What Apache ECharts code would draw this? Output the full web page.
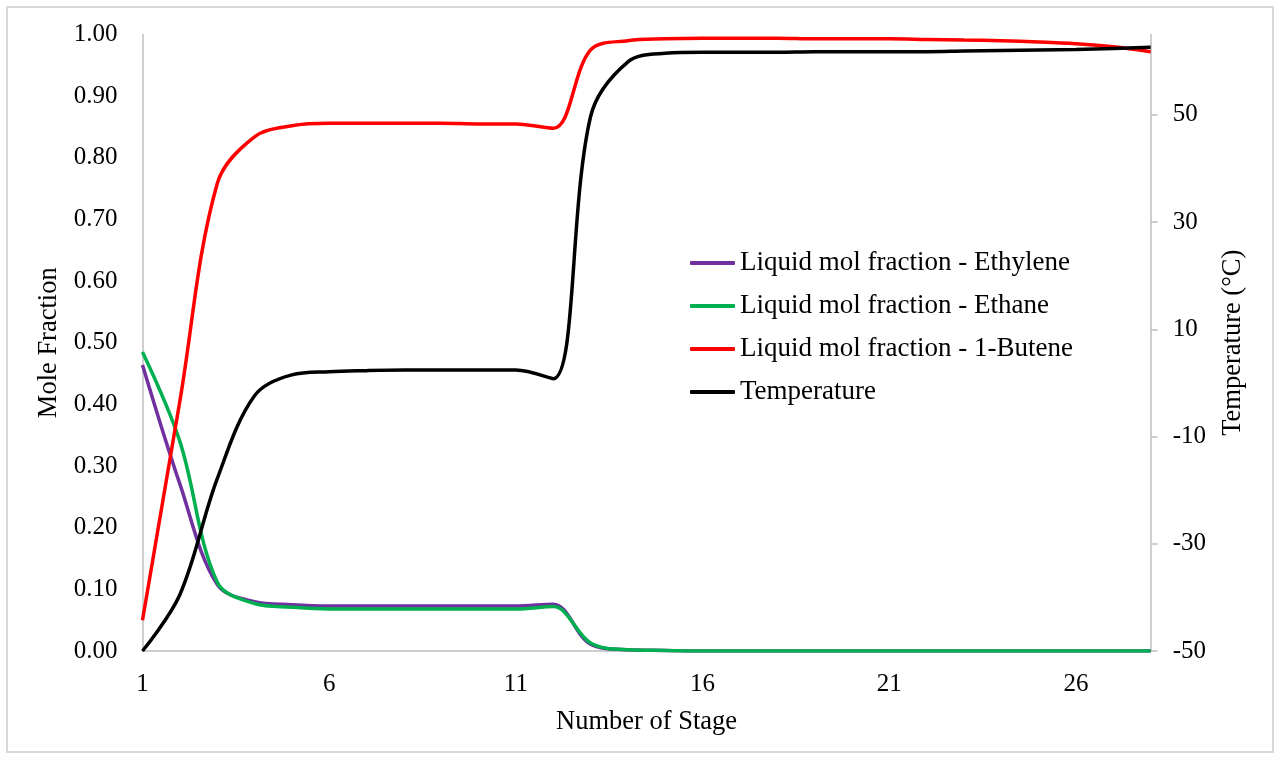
<!DOCTYPE html>
<html>
<head>
<meta charset="utf-8">
<script src="https://cdn.jsdelivr.net/npm/echarts@6/dist/echarts.min.js"></script>
<style>
html,body{margin:0;padding:0;background:#fff;}
#chart{width:1275px;height:759px;}
</style>
</head>
<body>
<div id="chart"></div>
<script>
const stages = [1,2,3,4,5,6,7,8,9,10,11,12,13,14,15,16,17,18,19,20,21,22,23,24,25,26,27,28];
const ethylene = [0.464,0.271,0.108,0.080,0.075,0.073,0.073,0.073,0.073,0.073,0.073,0.076,0.011,0.002,0.001,0,0,0,0,0,0,0,0,0,0,0,0,0];
const ethane   = [0.485,0.340,0.112,0.077,0.071,0.068,0.068,0.068,0.068,0.068,0.068,0.072,0.013,0.002,0.001,0,0,0,0,0,0,0,0,0,0,0,0,0];
const butene   = [0.050,0.405,0.758,0.834,0.852,0.856,0.856,0.856,0.856,0.855,0.855,0.848,0.975,0.990,0.993,0.994,0.994,0.994,0.993,0.993,0.993,0.992,0.991,0.990,0.988,0.985,0.980,0.972];
const temperature = [-50,-39.5,-17.9,-2.4,1.5,2.1,2.3,2.4,2.4,2.4,2.4,0.8,49.7,59.9,61.5,61.7,61.7,61.7,61.8,61.8,61.8,61.8,61.9,62.0,62.1,62.2,62.4,62.6];
const xTicks = [1,6,11,16,21,26];
const tempTicks = [-50,-30,-10,10,30,50];
const seriesNames = ['Liquid mol fraction - Ethylene','Liquid mol fraction - Ethane','Liquid mol fraction - 1-Butene','Temperature'];

const FONT = '"Liberation Serif","Times New Roman",serif';
const pair = arr => stages.map((s,i)=>[s,arr[i]]);

const chart = echarts.init(document.getElementById('chart'), null, {renderer:'canvas'});
const mkLine = (name, data, color, yIdx) => ({
  name, type:'line', data: pair(data), yAxisIndex: yIdx,
  smooth: 0.35, symbol:'none', showSymbol:false,
  lineStyle:{color, width:3.5}, itemStyle:{color},
  emphasis:{disabled:true}
});
chart.setOption({
  animation:false,
  backgroundColor:'#fff',
  textStyle:{fontFamily:FONT},
  graphic:[{type:'rect', shape:{x:7,y:7,width:1266,height:745}, style:{fill:'none', stroke:'#d9d9d9', lineWidth:2}, silent:true, z:-10}],
  grid:{left:142.5, right:124.3, top:34.5, bottom:108, outerBoundsMode:'none'},
  legend:{
    orient:'vertical', left:685, top:243, itemWidth:45, itemHeight:4, itemGap:13,
    icon:'roundRect',
    textStyle:{fontFamily:FONT, fontSize:27, color:'#000', lineHeight:30},
    data: seriesNames
  },
  xAxis:{
    type:'value', min:1, max:28,
    name:'Number of Stage', nameLocation:'middle', nameGap:58,
    nameTextStyle:{fontFamily:FONT, fontSize:26.5, color:'#000'},
    axisLine:{show:true, lineStyle:{color:'#bfbfbf', width:1.5}},
    axisTick:{show:false},
    splitLine:{show:false},
    axisLabel:{customValues:xTicks, fontFamily:FONT, fontSize:25, color:'#000', margin:21}
  },
  yAxis:[{
    type:'value', min:0, max:1, interval:0.1,
    name:'Mole Fraction', nameLocation:'middle', nameGap:80,
    nameTextStyle:{fontFamily:FONT, fontSize:26.5, color:'#000'},
    axisLine:{show:true, lineStyle:{color:'#bfbfbf', width:1.5}},
    axisTick:{show:false},
    splitLine:{show:false},
    axisLabel:{fontFamily:FONT, fontSize:25, color:'#000', margin:25, formatter:v=>v.toFixed(2)}
  },{
    type:'value', min:-50, max:65, position:'right',
    name:'Temperature (°C)', nameLocation:'middle', nameGap:69,
    nameTextStyle:{fontFamily:FONT, fontSize:26.5, color:'#000'},
    axisLine:{show:true, lineStyle:{color:'#bfbfbf', width:1.5}},
    axisTick:{show:true, inside:false, length:7, customValues:tempTicks, lineStyle:{color:'#bfbfbf', width:1.5}},
    splitLine:{show:false},
    axisLabel:{customValues:tempTicks, fontFamily:FONT, fontSize:25, color:'#000', margin:22}
  }],
  series:[
    mkLine(seriesNames[0], ethylene, '#7030A0', 0),
    mkLine(seriesNames[1], ethane, '#00B050', 0),
    mkLine(seriesNames[2], butene, '#FF0000', 0),
    mkLine(seriesNames[3], temperature, '#000000', 1)
  ]
});
</script>
</body>
</html>
